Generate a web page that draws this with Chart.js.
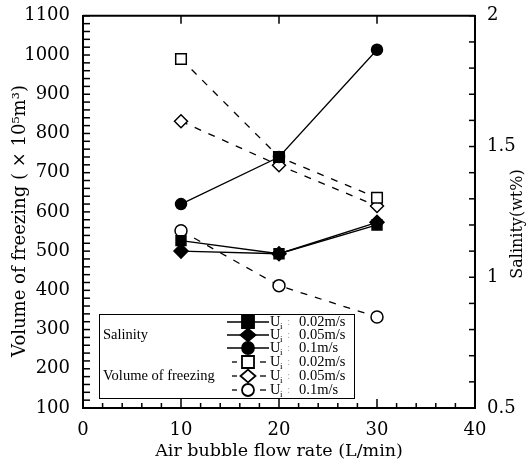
<!DOCTYPE html>
<html>
<head>
<meta charset="utf-8">
<script src="https://cdn.jsdelivr.net/npm/chart.js@4.4.1/dist/chart.umd.min.js"></script>
<style>
html,body{margin:0;padding:0;background:#fff;}
canvas{display:block;}
</style>
</head>
<body>
<canvas id="c" width="526" height="474"></canvas>
<script>
// ---- data ----
const flowRates = [10, 20, 30];
const salinity002 = [1.14, 1.09, 1.20];
const salinity005 = [1.10, 1.09, 1.21];
const salinity01  = [1.28, 1.46, 1.87];
const volume002 = [990, 740, 636];
const volume005 = [831, 719, 615];
const volume01  = [552, 412, 332];
const speedLabels = ['0.02m/s', '0.05m/s', '0.1m/s'];
const groupLabels = ['Salinity', 'Volume of freezing'];
const xTitle = 'Air bubble flow rate (L/min)';
const yTitle = 'Volume of freezing ( \u00d7 10\u2075m\u00b3)';
const y1Title = 'Salinity(wt%)';

const SERIF = '"DejaVu Serif", "Liberation Serif", serif';
const LSERIF = '"Liberation Serif", serif';

function pts(arr) { return flowRates.map((x, i) => ({x: x, y: arr[i]})); }

const datasets = [
  {data: pts(salinity002), yAxisID: 'y1', pointStyle: 'rect', pointRadius: 7, pointBackgroundColor: '#000'},
  {data: pts(salinity005), yAxisID: 'y1', pointStyle: 'rectRot', pointRadius: 7, pointBackgroundColor: '#000'},
  {data: pts(salinity01),  yAxisID: 'y1', pointStyle: 'circle', pointRadius: 5.5, pointBackgroundColor: '#000'},
  {data: pts(volume002), yAxisID: 'y', pointStyle: 'rect', pointRadius: 7.5, pointBackgroundColor: ['#fff', '#000', '#fff'], borderDash: [7, 8]},
  {data: pts(volume005), yAxisID: 'y', pointStyle: 'rectRot', pointRadius: 6.5, pointBackgroundColor: '#fff', borderDash: [7, 8]},
  {data: pts(volume01),  yAxisID: 'y', pointStyle: 'circle', pointRadius: 6, pointBackgroundColor: '#fff', borderDash: [7, 8]}
].map(d => Object.assign({
  borderColor: '#000', borderWidth: 1.3, pointBorderColor: '#000', pointBorderWidth: 1.5,
  showLine: true, fill: false, tension: 0
}, d));

const legendMarkerRadius = [8.5, 7.5, 6, 8.5, 7.5, 6];

function drawMarker(ctx, style, x, y, r, fillColor) {
  ctx.beginPath();
  if (style === 'rect') {
    const s = Math.SQRT1_2 * r;
    ctx.rect(x - s, y - s, 2 * s, 2 * s);
  } else if (style === 'rectRot') {
    ctx.moveTo(x, y - r * 0.85); ctx.lineTo(x + r, y); ctx.lineTo(x, y + r * 0.85); ctx.lineTo(x - r, y); ctx.closePath();
  } else {
    ctx.arc(x, y, r, 0, Math.PI * 2);
  }
  ctx.fillStyle = fillColor;
  ctx.fill();
  ctx.lineWidth = 1.8;
  ctx.strokeStyle = '#000';
  ctx.setLineDash([]);
  ctx.stroke();
}

const decorPlugin = {
  id: 'decor',
  afterDraw(chart) {
    const {ctx, chartArea: a, scales} = chart;
    ctx.save();
    ctx.strokeStyle = '#000';
    ctx.lineWidth = 1.5;
    ctx.setLineDash([]);
    const line = (x1, y1, x2, y2) => { ctx.beginPath(); ctx.moveTo(x1, y1); ctx.lineTo(x2, y2); ctx.stroke(); };
    // top border
    ctx.lineWidth = 2;
    line(a.left, a.top, a.right, a.top);
    ctx.lineWidth = 1.5;
    // left ticks
    for (let v = 100; v <= 1100; v += 20) {
      const y = scales.y.getPixelForValue(v);
      line(a.left, y, a.left + 7, y);
    }
    // right ticks
    for (let i = 0; i <= 15; i++) {
      const y = scales.y1.getPixelForValue(0.5 + i * 0.1);
      line(a.right - 6, y, a.right, y);
    }
    // bottom ticks
    for (let v = 0; v <= 40; v += 2) {
      const x = scales.x.getPixelForValue(v);
      line(x, a.bottom, x, a.bottom - (v % 10 === 0 ? 9 : 5));
    }
    // top ticks
    for (let v = 10; v <= 30; v += 10) {
      const x = scales.x.getPixelForValue(v);
      line(x, a.top, x, a.top + 8);
    }

    // titles
    ctx.fillStyle = '#000';
    ctx.textAlign = 'center';
    ctx.textBaseline = 'middle';
    ctx.font = '17.5px ' + SERIF;
    ctx.fillText(xTitle, (a.left + a.right) / 2, 451);
    ctx.save();
    ctx.translate(20, 221);
    ctx.rotate(-Math.PI / 2);
    ctx.font = '18px ' + SERIF;
    ctx.fillText(yTitle, 0, 0);
    ctx.restore();
    ctx.save();
    ctx.translate(518, 224);
    ctx.rotate(-Math.PI / 2);
    ctx.font = '16px ' + SERIF;
    ctx.fillText(y1Title, 0, 0);
    ctx.restore();

    // legend
    const bx = 99, by = 314, bw = 255, bh = 84;
    ctx.fillStyle = '#fff';
    ctx.fillRect(bx, by, bw, bh);
    ctx.lineWidth = 1;
    ctx.strokeStyle = '#000';
    ctx.strokeRect(bx + 0.5, by + 0.5, bw, bh);
    ctx.fillStyle = '#000';
    ctx.textAlign = 'left';
    ctx.font = '14.5px ' + LSERIF;
    ctx.fillText(groupLabels[0], 103, 335);
    ctx.fillText(groupLabels[1], 103, 376);
    const rowY = [322, 335, 348, 362, 376, 390];
    chart.data.datasets.forEach((ds, i) => {
      const y = rowY[i];
      ctx.strokeStyle = '#000';
      ctx.lineWidth = 1.3;
      ctx.setLineDash([]);
      if (i >= 3) {
        line(232, y, 237, y);
        line(260, y, 266, y);
      } else {
        line(227, y, 269, y);
      }
      drawMarker(ctx, ds.pointStyle, 248, y, legendMarkerRadius[i], i < 3 ? '#000' : '#fff');
      ctx.fillStyle = '#000';
      ctx.font = '14.5px ' + LSERIF;
      ctx.textAlign = 'left';
      ctx.fillText('U', 270, y);
      ctx.font = '9px ' + LSERIF;
      ctx.fillText('i', 280, y + 5);
      ctx.fillStyle = '#aaa';
      ctx.font = '11px ' + LSERIF;
      ctx.fillText(':', 287, y);
      ctx.fillStyle = '#000';
      ctx.font = '14.5px ' + LSERIF;
      ctx.fillText(speedLabels[i % 3], 299, y);
    });
    ctx.restore();
  }
};

const tickFont = {family: SERIF, size: 18};

new Chart(document.getElementById('c'), {
  type: 'scatter',
  data: {datasets: datasets},
  options: {
    responsive: false,
    animation: false,
    devicePixelRatio: 1,
    layout: {padding: {top: 14, left: 0, right: 0, bottom: 0}},
    plugins: {legend: {display: false}, tooltip: {enabled: false}},
    scales: {
      x: {
        type: 'linear', min: 0, max: 40,
        ticks: {stepSize: 10, color: '#000', font: tickFont, padding: 4, maxRotation: 0, callback: v => String(v)},
        grid: {display: false},
        border: {display: true, color: '#000', width: 2},
        afterFit: s => { s.height = 66; }
      },
      y: {
        type: 'linear', position: 'left', min: 100, max: 1100,
        ticks: {stepSize: 100, color: '#000', font: tickFont, padding: 5, callback: v => String(v)},
        grid: {display: false},
        border: {display: true, color: '#000', width: 2},
        afterFit: s => { s.width = 83; }
      },
      y1: {
        type: 'linear', position: 'right', min: 0.5, max: 2,
        ticks: {stepSize: 0.5, color: '#000', font: tickFont, padding: 4, callback: v => String(v)},
        grid: {display: false},
        border: {display: true, color: '#000', width: 2},
        afterFit: s => { s.width = 51; }
      }
    }
  },
  plugins: [decorPlugin]
});
</script>
</body>
</html>
